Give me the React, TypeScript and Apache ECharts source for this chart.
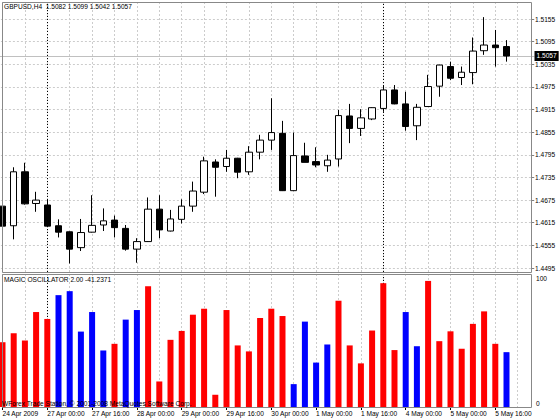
import React, { useEffect, useRef } from "react";
import * as echarts from "echarts";

// ---- data ----
const symbol = "GBPUSD,H4";
const opens = [1.4659,1.4607,1.4750,1.4666,1.4662,1.4607,1.4591,1.4549,1.4590,1.4609,1.4622,1.4600,1.4545,1.4565,1.4651,1.4593,1.4624,1.4659,1.4696,1.4776,1.4764,1.4786,1.4750,1.4802,1.4834,1.4852,1.4700,1.4792,1.4777,1.4766,1.4784,1.4898,1.4865,1.4890,1.4918,1.4967,1.4930,1.4872,1.4923,1.4977,1.5029,1.5000,1.5013,1.5071,1.5086,1.5082];
const highs = [1.4678,1.4762,1.4774,1.4697,1.4677,1.4624,1.4592,1.4625,1.4688,1.4653,1.4634,1.4609,1.4574,1.4682,1.4688,1.4649,1.4677,1.4724,1.4790,1.4783,1.4808,1.4787,1.4818,1.4848,1.4945,1.4885,1.4854,1.4827,1.4815,1.4795,1.4914,1.4930,1.4916,1.4921,1.4980,1.4980,1.4962,1.4930,1.5007,1.5034,1.5042,1.5029,1.5106,1.5160,1.5126,1.5099];
const lows = [1.4593,1.4571,1.4663,1.4644,1.4605,1.4576,1.4507,1.4540,1.4589,1.4593,1.4576,1.4541,1.4509,1.4564,1.4574,1.4592,1.4613,1.4644,1.4691,1.4684,1.4750,1.4733,1.4742,1.4783,1.4808,1.4699,1.4699,1.4775,1.4762,1.4750,1.4764,1.4826,1.4845,1.4887,1.4909,1.4929,1.4859,1.4834,1.4922,1.4949,1.4993,1.4980,1.4982,1.5060,1.5029,1.5042];
const closes = [1.4606,1.4750,1.4665,1.4675,1.4606,1.4590,1.4545,1.4589,1.4608,1.4620,1.4602,1.4545,1.4565,1.4651,1.4596,1.4625,1.4659,1.4699,1.4779,1.4762,1.4786,1.4749,1.4802,1.4834,1.4854,1.4700,1.4793,1.4775,1.4768,1.4781,1.4899,1.4865,1.4893,1.4920,1.4967,1.4930,1.4870,1.4921,1.4976,1.5033,1.4998,1.5014,1.5070,1.5086,1.5079,1.5057];

const oscName = "MAGIC OSCILLATOR 2.00";
// signed oscillator: positive drawn red, negative drawn blue (as magnitude)
const oscValues = [48.7,55.4,50.0,71.4,66.2,-84.1,-87.1,-56.7,-71.4,-42.5,47.5,-65.7,-72.9,90.8,19.2,50.5,57.2,69.4,73.9,9.2,72.9,46.3,41.8,66.9,73.9,68.4,-17.2,-64.2,-33.4,-47.0,79.9,46.3,32.8,57.5,93.1,42.8,-71.4,-45.7,94.8,49.5,56.9,43.8,62.5,71.9,47.5,-41.2371];

const timeLabels = ["24 Apr 2009","27 Apr 00:00","27 Apr 16:00","28 Apr 00:00","29 Apr 00:00","29 Apr 16:00","30 Apr 00:00","1 May 00:00","1 May 16:00","4 May 00:00","5 May 00:00","5 May 16:00"];
const labelEvery = 4;
const priceTicks = [1.4495,1.4555,1.4615,1.4675,1.4735,1.4795,1.4855,1.4915,1.4975,1.5035,1.5095,1.5155];
const oscTicks = [0, 100];
const separatorBars = [4, 34];
const emptySlots = 2;
const copyright = "WForex Trade Station, \u00a9 2001-2008 MetaQuotes Software Corp.";

// ---- layout / style ----
const FONT = "'Liberation Sans', Arial, sans-serif";
const FS = 6.6;
const BAND = 11.2;
const FIRST_CENTER = 2.5;
const PRICE_MIN = 1.44844;
const PRICE_MAX = 1.52001;

const fmt4 = (v: number) => v.toFixed(4);

export default function App() {
  const ref = useRef<HTMLDivElement>(null);
  useEffect(() => {
    const chart = echarts.init(ref.current!, null, { renderer: "svg" });
    const n = opens.length;
    const slots = n + emptySlots;
    const cats = Array.from({ length: slots }, (_, i) => String(i));
    const candleData = opens.map((o, i) => [o, closes[i], lows[i], highs[i]]);
    const last = n - 1;
    const header = `${symbol}  ${fmt4(opens[last])} ${fmt4(highs[last])} ${fmt4(lows[last])} ${fmt4(closes[last])}`;
    const oscHeader = `${oscName} ${fmt4(oscValues[last])}`;
    const gridLeft = FIRST_CENTER - BAND / 2;
    const gridWidth = BAND * slots;
    const textBase = { fontSize: FS, fontFamily: FONT, color: "#000" };
    const gridLine = { color: "#cccccc", type: [2, 2] as any, width: 1 };

    const xBase = (gridIndex: number) => ({
      type: "category",
      gridIndex,
      data: cats,
      boundaryGap: true,
      axisLine: { show: false },
      splitLine: { show: true, interval: 1, alignWithLabel: true, lineStyle: gridLine },
    });

    chart.setOption({
      animation: false,
      backgroundColor: "#ffffff",
      title: [
        { text: header, left: 4, top: 3, padding: 0, textStyle: { ...textBase, fontWeight: "normal" } },
        { text: oscHeader, left: 4, top: 276, padding: 0, textStyle: { ...textBase, fontWeight: "normal" } },
      ],
      grid: [
        { left: gridLeft, top: 2, width: gridWidth, height: 270, outerBoundsMode: "none", containLabel: false },
        { left: gridLeft, top: 274, width: gridWidth, height: 133, outerBoundsMode: "none", containLabel: false },
      ],
      xAxis: [
        { ...xBase(0), axisTick: { show: false }, axisLabel: { show: false } },
        {
          ...xBase(1),
          axisTick: { show: true, interval: labelEvery - 1, alignWithLabel: true, length: 3, lineStyle: { color: "#000" } },
          axisLabel: {
            show: true,
            interval: labelEvery - 1,
            align: "left",
            margin: 3,
            ...textBase,
            formatter: (_v: string, idx: number) => (idx % labelEvery === 0 ? timeLabels[idx / labelEvery] ?? "" : ""),
          },
        },
      ],
      yAxis: [
        {
          type: "value",
          gridIndex: 0,
          position: "right",
          offset: -2.5,
          min: PRICE_MIN,
          max: PRICE_MAX,
          axisLine: { show: false },
          axisTick: { show: true, customValues: priceTicks, length: 2, lineStyle: { color: "#808080" } },
          axisLabel: { customValues: priceTicks, formatter: (v: number) => fmt4(v), margin: 3, ...textBase },
          splitLine: { show: true, lineStyle: gridLine },
        },
        {
          type: "value",
          gridIndex: 1,
          position: "right",
          offset: -2.5,
          min: 0,
          max: 100,
          axisLine: { show: false },
          axisTick: { show: false },
          splitLine: { show: false },
          axisLabel: {
            customValues: oscTicks,
            margin: 4,
            ...textBase,
            formatter: (v: number) => (v >= 50 ? `{hi|${v}}` : `{lo|${v}}`),
            rich: {
              hi: { ...textBase, padding: [8, 0, 0, 0] },
              lo: { ...textBase, padding: [0, 0, 8, 0] },
            },
          },
        },
      ],
      series: [
        {
          type: "candlestick",
          xAxisIndex: 0,
          yAxisIndex: 0,
          data: candleData,
          barWidth: 7,
          itemStyle: { color: "#ffffff", color0: "#000000", borderColor: "#000000", borderColor0: "#000000", borderWidth: 1 },
          markLine: {
            silent: true,
            symbol: ["none", "none"],
            precision: 4,
            z: 1,
            data: [
              {
                yAxis: closes[last],
                lineStyle: { color: "#c0c0c0", type: "solid", width: 1 },
                label: {
                  show: true,
                  position: "end",
                  distance: 0,
                  formatter: fmt4(closes[last]),
                  color: "#fff",
                  backgroundColor: "#000",
                  padding: [2, 2, 1, 2],
                  fontSize: FS,
                  fontFamily: FONT,
                },
              },
              ...separatorBars.map((i) => ({
                xAxis: String(i),
                lineStyle: { color: "#000", type: [1, 2], width: 1 },
                label: { show: false },
              })),
            ],
          },
        },
        {
          type: "bar",
          xAxisIndex: 1,
          yAxisIndex: 1,
          barWidth: 6,
          data: oscValues.map((v) => ({ value: Math.abs(v), itemStyle: { color: v < 0 ? "#0000ff" : "#ff0000" } })),
          markLine: {
            silent: true,
            symbol: ["none", "none"],
            z: 1,
            data: separatorBars.map((i) => ({
              xAxis: String(i),
              lineStyle: { color: "#000", type: [1, 2], width: 1 },
              label: { show: false },
            })),
          },
        },
      ],
      graphic: [
        { type: "rect", shape: { x: 2.5, y: 2.5, width: 529, height: 270 }, style: { fill: "none", stroke: "#888", lineWidth: 1 }, z: 50 },
        { type: "rect", shape: { x: 2.5, y: 274.5, width: 529, height: 133 }, style: { fill: "none", stroke: "#888", lineWidth: 1 }, z: 50 },
        {
          type: "text",
          x: 2,
          y: 403,
          z: 60,
          style: { text: copyright, fill: "#000", font: `${FS}px ${FONT}`, verticalAlign: "middle" },
        },
      ],
    });
    return () => chart.dispose();
  }, []);
  return <div ref={ref} style={{ position: "fixed", left: 0, top: 0, width: 560, height: 420, background: "#fff" }} />;
}
